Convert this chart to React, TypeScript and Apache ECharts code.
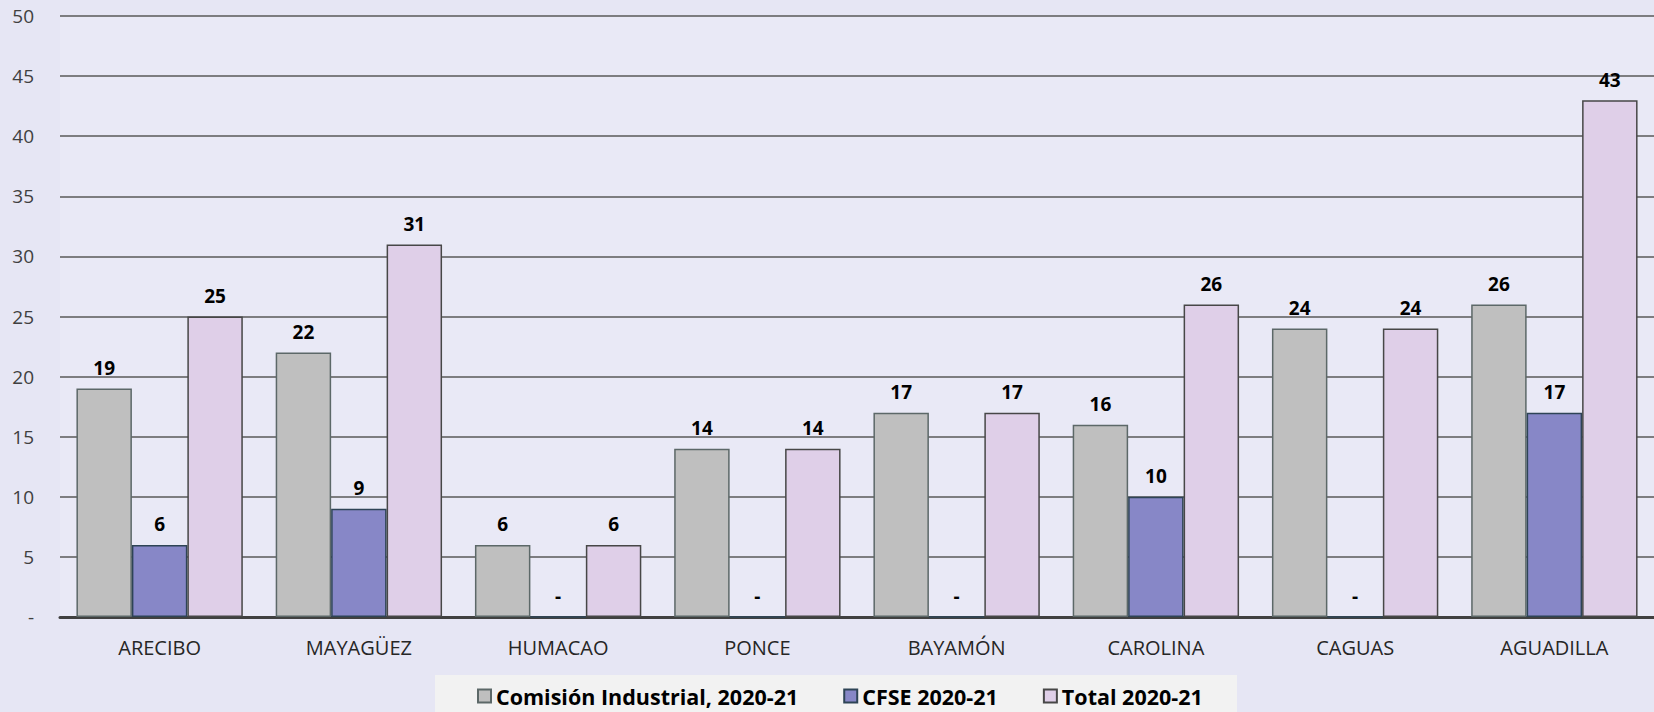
import React, { useEffect, useRef } from "react";
import * as echarts from "echarts";

const categories = ["ARECIBO", "MAYAGÜEZ", "HUMACAO", "PONCE", "BAYAMÓN", "CAROLINA", "CAGUAS", "AGUADILLA"];
const comisionValues = [19, 22, 6, 14, 17, 16, 24, 26];
const cfseValues = [6, 9, 0, 0, 0, 10, 0, 17];
const totalValues = [25, 31, 6, 14, 17, 26, 24, 43];
const seriesNames = ["Comisión Industrial, 2020-21", "CFSE 2020-21", "Total 2020-21"];

const FONT = "'Open Sans', 'Noto Sans', sans-serif";

export default function App() {
  const ref = useRef<HTMLDivElement>(null);
  useEffect(() => {
    if (!ref.current) return;
    const chart = echarts.init(ref.current, null, { renderer: "svg" });
    const labelCfg = {
      show: true,
      position: "top",
      distance: 11,
      color: "#000",
      fontWeight: "bold",
      fontSize: 19,
      fontFamily: FONT,
      formatter: (p: any) => (p.value === 0 ? "-" : String(p.value)),
    };
    const mk = (name: string, data: number[], color: string, border: string) => ({
      name,
      type: "bar",
      data,
      barGap: "0%",
      barCategoryGap: "16.5%",
      itemStyle: { color, borderColor: border, borderWidth: 1.5 },
      label: labelCfg,
      emphasis: { disabled: true },
    });
    chart.setOption({
      animation: false,
      backgroundColor: "#e6e6f4",
      textStyle: { fontFamily: FONT },
      graphic: [
        {
          type: "rect",
          shape: { x: 435, y: 675, width: 802, height: 37 },
          style: { fill: "#f2f2f2" },
          z: 0,
        },
      ],
      grid: {
        left: 60,
        right: 0,
        top: 16,
        bottom: 712 - 617,
        show: true,
        backgroundColor: "#e9e9f6",
        borderWidth: 0,
      },
      legend: {
        data: seriesNames,
        left: 477,
        top: 684,
        padding: 0,
        itemWidth: 13,
        itemHeight: 13,
        itemGap: 45,
        icon: "rect",
        textStyle: { fontSize: 21.5, lineHeight: 24, fontWeight: "bold", color: "#000", fontFamily: FONT },
      },
      xAxis: {
        type: "category",
        data: categories,
        axisLine: { lineStyle: { color: "#404040", width: 3 } },
        axisTick: { show: false },
        axisLabel: { color: "#262626", fontSize: 20, margin: 20, fontFamily: FONT },
      },
      yAxis: {
        type: "value",
        min: 0,
        max: 50,
        interval: 5,
        axisLine: { show: false },
        axisTick: { show: false },
        splitLine: { lineStyle: { color: "#595959", width: 1.5 } },
        axisLabel: {
          color: "#404040",
          fontSize: 19,
          margin: 26,
          fontFamily: FONT,
          formatter: (v: number) => (v === 0 ? "-" : String(v)),
        },
      },
      series: [
        mk(seriesNames[0], comisionValues, "#bfbfbf", "#5c6868"),
        mk(seriesNames[1], cfseValues, "#8787c7", "#2e4456"),
        mk(seriesNames[2], totalValues, "#dfcfe8", "#474747"),
      ],
    });
    return () => chart.dispose();
  }, []);
  return (
    <div
      ref={ref}
      style={{ position: "absolute", left: 0, top: 0, width: 1654, height: 712 }}
    />
  );
}
